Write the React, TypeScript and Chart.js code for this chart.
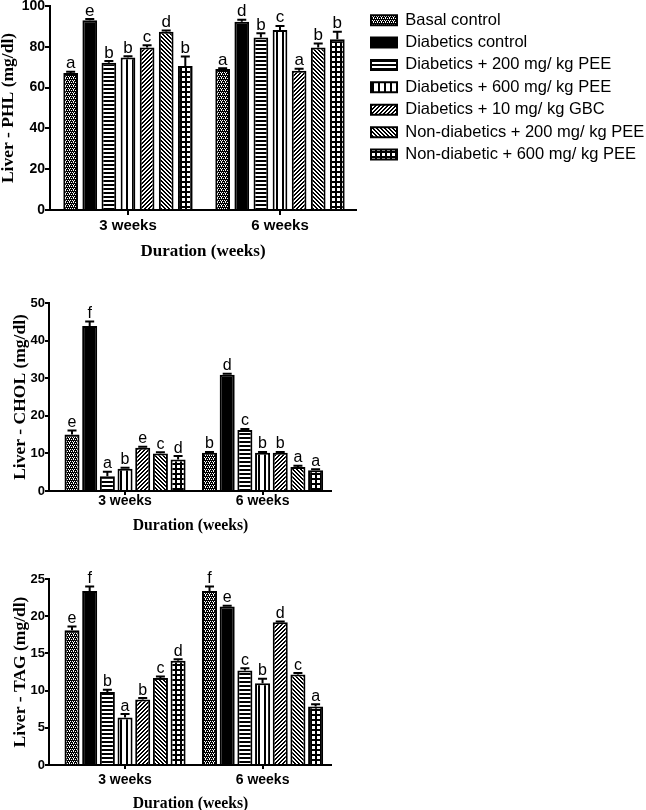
import React, { useEffect, useRef } from 'react';
import { Chart, registerables } from 'chart.js';

Chart.register(...registerables);

// ---------------- data ----------------
const groups = [
  'Basal control',
  'Diabetics control',
  'Diabetics + 200 mg/ kg PEE',
  'Diabetics + 600 mg/ kg PEE',
  'Diabetics + 10 mg/ kg GBC',
  'Non-diabetics + 200 mg/ kg PEE',
  'Non-diabetic + 600 mg/ kg PEE',
];
const durations = ['3 weeks', '6 weeks'];

// each row: one group, [3 weeks, 6 weeks]
const phlMeans = [[67.2, 69.1], [93.0, 92.3], [72.2, 84.6], [74.8, 88.2], [79.6, 68.3], [87.4, 79.6], [70.6, 83.7]];
const phlErrors = [[0.6, 0.4], [0.6, 1.0], [0.8, 2.0], [0.6, 2.0], [1.2, 1.0], [0.6, 2.0], [4.6, 3.7]];
const phlLetters = [['a', 'a'], ['e', 'd'], ['b', 'b'], ['b', 'c'], ['c', 'a'], ['d', 'b'], ['b', 'b']];

const cholMeans = [[15.0, 10.2], [43.9, 30.9], [3.9, 16.2], [5.9, 10.2], [11.5, 10.2], [10.0, 6.4], [8.4, 5.5]];
const cholErrors = [[1.1, 0.2], [1.2, 0.3], [1.2, 0.3], [0.3, 0.2], [0.3, 0.2], [0.3, 0.3], [0.9, 0.3]];
const cholLetters = [['e', 'b'], ['f', 'd'], ['a', 'c'], ['b', 'b'], ['e', 'b'], ['c', 'a'], ['d', 'a']];

const tagMeans = [[18.1, 23.4], [23.4, 21.3], [9.8, 12.7], [6.4, 11.0], [8.8, 19.2], [11.7, 12.15], [14.0, 7.85]];
const tagErrors = [[0.5, 0.6], [0.6, 0.1], [0.3, 0.3], [0.45, 0.6], [0.2, 0.1], [0.2, 0.2], [0.2, 0.3]];
const tagLetters = [['e', 'f'], ['f', 'e'], ['b', 'c'], ['a', 'b'], ['b', 'd'], ['c', 'c'], ['d', 'a']];

const phlAxis = { max: 100, step: 20, title: 'Liver - PHL (mg/dl)' };
const cholAxis = { max: 50, step: 10, title: 'Liver - CHOL (mg/dl)' };
const tagAxis = { max: 25, step: 5, title: 'Liver - TAG (mg/dl)' };
const xTitle = 'Duration (weeks)';

const patternKinds = ['dots', 'solid', 'hstripes', 'vstripes', 'diagUp', 'diagDown', 'grid'];

// ---------------- styling ----------------
const SANS = "'Liberation Sans', Arial, sans-serif";
const SERIF = "'Liberation Serif', 'Times New Roman', serif";

function makePattern(kind: string): any {
  if (kind === 'solid') return '#000';
  const sizes: Record<string, number> = { dots: 4, hstripes: 4, vstripes: 6, diagUp: 4, diagDown: 4, grid: 5 };
  const n = sizes[kind];
  const c = document.createElement('canvas');
  c.width = n;
  c.height = n;
  const ctx = c.getContext('2d')!;
  const img = ctx.createImageData(n, n);
  for (let y = 0; y < n; y++) {
    for (let x = 0; x < n; x++) {
      let black = false;
      if (kind === 'dots') {
        const white = (y === 0 && (x === 0 || x === 2)) || (y === 2 && (x === 1 || x === 3)) || (y === 1 && x === 1);
        black = !white;
      } else if (kind === 'hstripes') black = y % 4 < 2;
      else if (kind === 'vstripes') black = x % 6 < 2;
      else if (kind === 'diagUp') black = (x + y) % 4 < 2;
      else if (kind === 'diagDown') black = (x - y + 8) % 4 < 2;
      else if (kind === 'grid') black = x % 5 < 2 || y % 5 < 2;
      const v = black ? 0 : 255;
      const o = (y * n + x) * 4;
      img.data[o] = v;
      img.data[o + 1] = v;
      img.data[o + 2] = v;
      img.data[o + 3] = 255;
    }
  }
  ctx.putImageData(img, 0, 0);
  return ctx.createPattern(c, 'repeat');
}

type Spec = {
  top: number;
  width: number;
  height: number;
  means: number[][];
  errors: number[][];
  letters: string[][];
  axis: { max: number; step: number; title: string };
  padTop: number;
  yAxisWidth: number;
  xAxisHeight: number;
  yTitlePad: number;
  yTickFont: number;
  yTickLen: number;
  xTickFont: number;
  xTickLen: number;
  xTickPad: number;
  xTitleFont: number;
  letterFont: number;
  catPct: number;
  barPct: number;
  startPad: number;
  endPad: number;
  legend: boolean;
};

const specs: Spec[] = [
  {
    top: -4, width: 646, height: 266, means: phlMeans, errors: phlErrors, letters: phlLetters, axis: phlAxis,
    padTop: 10, yAxisWidth: 50, xAxisHeight: 52, yTitlePad: 0, yTickFont: 14, yTickLen: 5,
    xTickFont: 15, xTickLen: 5, xTickPad: 2, xTitleFont: 17, letterFont: 17,
    catPct: 0.88, barPct: 0.77, startPad: 0.013, endPad: 0, legend: true,
  },
  {
    top: 293, width: 332, height: 242, means: cholMeans, errors: cholErrors, letters: cholLetters, axis: cholAxis,
    padTop: 10, yAxisWidth: 49, xAxisHeight: 44, yTitlePad: 12, yTickFont: 13, yTickLen: 4,
    xTickFont: 14, xTickLen: 4, xTickPad: -2, xTitleFont: 15.7, letterFont: 16,
    catPct: 0.9, barPct: 0.85, startPad: 0.053, endPad: 0.005, legend: false,
  },
  {
    top: 569, width: 332, height: 244, means: tagMeans, errors: tagErrors, letters: tagLetters, axis: tagAxis,
    padTop: 10, yAxisWidth: 49, xAxisHeight: 48, yTitlePad: 12, yTickFont: 13, yTickLen: 4,
    xTickFont: 14, xTickLen: 4, xTickPad: 2.5, xTitleFont: 15.7, letterFont: 16,
    catPct: 0.9, barPct: 0.85, startPad: 0.053, endPad: 0.005, legend: false,
  },
];

const LEGEND_WIDTH = 290;
const LEGEND_BOX_X = 371;

function buildChart(canvas: HTMLCanvasElement, s: Spec) {
  const patterns = patternKinds.map(makePattern);
  const datasets = groups.map((g, i) => ({
    label: g,
    data: s.means[i],
    backgroundColor: patterns[i],
    borderColor: '#000',
    borderWidth: 2,
    categoryPercentage: s.catPct,
    barPercentage: s.barPct,
  }));

  const errorPlugin = {
    id: 'errorsAndLetters',
    afterDatasetsDraw(chart: any) {
      const ctx = chart.ctx;
      const yScale = chart.scales.y;
      ctx.save();
      ctx.strokeStyle = '#000';
      ctx.fillStyle = '#000';
      ctx.lineWidth = 2;
      ctx.lineCap = 'butt';
      ctx.font = `${s.letterFont}px ${SANS}`;
      ctx.textAlign = 'center';
      ctx.textBaseline = 'alphabetic';
      chart.data.datasets.forEach((_ds: any, i: number) => {
        const meta = chart.getDatasetMeta(i);
        meta.data.forEach((el: any, j: number) => {
          const yTop = yScale.getPixelForValue(s.means[i][j] + s.errors[i][j]);
          const x = el.x;
          ctx.beginPath();
          ctx.moveTo(x, el.y);
          ctx.lineTo(x, yTop);
          ctx.moveTo(x - 4.5, yTop);
          ctx.lineTo(x + 4.5, yTop);
          ctx.stroke();
          ctx.fillText(s.letters[i][j], x, yTop - 3.5);
        });
      });
      ctx.restore();
    },
  };

  const legendPlace = {
    id: 'legendPlace',
    beforeLayout(chart: any) {
      const lg = chart.legend;
      if (lg && !lg.__patched) {
        const origFit = lg.fit;
        lg.fit = function () {
          origFit.call(this);
          this.width = LEGEND_WIDTH;
        };
        lg.__patched = true;
      }
    },
    afterLayout(chart: any) {
      const lg = chart.legend;
      if (lg) {
        const pad = lg.options.labels.padding;
        const dx = LEGEND_BOX_X - (lg.left + pad);
        lg.left += dx;
        lg.right += dx;
      }
    },
  };

  return new Chart(canvas, {
    type: 'bar',
    data: { labels: durations, datasets },
    plugins: s.legend ? [errorPlugin, legendPlace] : [errorPlugin],
    options: {
      animation: false,
      responsive: false,
      layout: { padding: { top: s.padTop, left: 0, right: 0, bottom: 0 } },
      plugins: {
        tooltip: { enabled: false },
        legend: s.legend
          ? {
              display: true,
              position: 'right',
              align: 'start',
              labels: {
                boxWidth: 26,
                boxHeight: 10,
                padding: 5.9,
                color: '#000',
                font: { size: 16.5, family: SANS },
              },
            }
          : { display: false },
      },
      scales: {
        x: {
          offset: true,
          afterBuildTicks: (sc: any) => {
            sc._startValue = -0.5 - s.startPad;
            sc._valueRange = 2 + s.startPad + s.endPad;
          },
          afterFit: (sc: any) => {
            sc.height = s.xAxisHeight;
          },
          border: { display: true, color: '#000', width: 2 },
          grid: {
            display: true,
            offset: false,
            drawOnChartArea: false,
            drawTicks: true,
            tickLength: s.xTickLen,
            color: '#000',
            lineWidth: 2,
          },
          ticks: {
            color: '#000',
            padding: s.xTickPad,
            maxRotation: 0,
            font: { size: s.xTickFont, weight: 'bold', family: SANS, lineHeight: 1.2 },
          },
          title: {
            display: true,
            text: xTitle,
            color: '#000',
            padding: { top: 0, bottom: 0 },
            font: { size: s.xTitleFont, weight: 'bold', family: SERIF, lineHeight: 1.2 },
          },
        },
        y: {
          min: 0,
          max: s.axis.max,
          afterFit: (sc: any) => {
            sc.width = s.yAxisWidth;
          },
          border: { display: true, color: '#000', width: 2 },
          grid: {
            display: true,
            drawOnChartArea: false,
            drawTicks: true,
            tickLength: s.yTickLen,
            color: '#000',
            lineWidth: 2,
          },
          ticks: {
            stepSize: s.axis.step,
            color: '#000',
            padding: 0,
            font: { size: s.yTickFont, weight: 'bold', family: SANS, lineHeight: 1.2 },
          },
          title: {
            display: true,
            text: s.axis.title,
            color: '#000',
            padding: { top: s.yTitlePad, bottom: 0 },
            font: { size: 17.5, weight: 'bold', family: SERIF, lineHeight: 1 },
          },
        },
      },
    } as any,
  });
}

export default function App() {
  const r0 = useRef<HTMLCanvasElement>(null);
  const r1 = useRef<HTMLCanvasElement>(null);
  const r2 = useRef<HTMLCanvasElement>(null);
  const refs = [r0, r1, r2];

  useEffect(() => {
    Chart.defaults.color = '#000';
    Chart.defaults.font.family = SANS;
    const charts = specs.map((s, k) => buildChart(refs[k].current!, s));
    return () => charts.forEach((c) => c.destroy());
  }, []);

  return (
    <div
      style={{
        position: 'fixed',
        left: 0,
        top: 0,
        width: 646,
        height: 810,
        overflow: 'hidden',
        background: '#fff',
      }}
    >
      {specs.map((s, k) => (
        <canvas
          key={k}
          ref={refs[k]}
          width={s.width}
          height={s.height}
          style={{ position: 'absolute', left: 0, top: s.top, width: s.width, height: s.height }}
        />
      ))}
    </div>
  );
}
